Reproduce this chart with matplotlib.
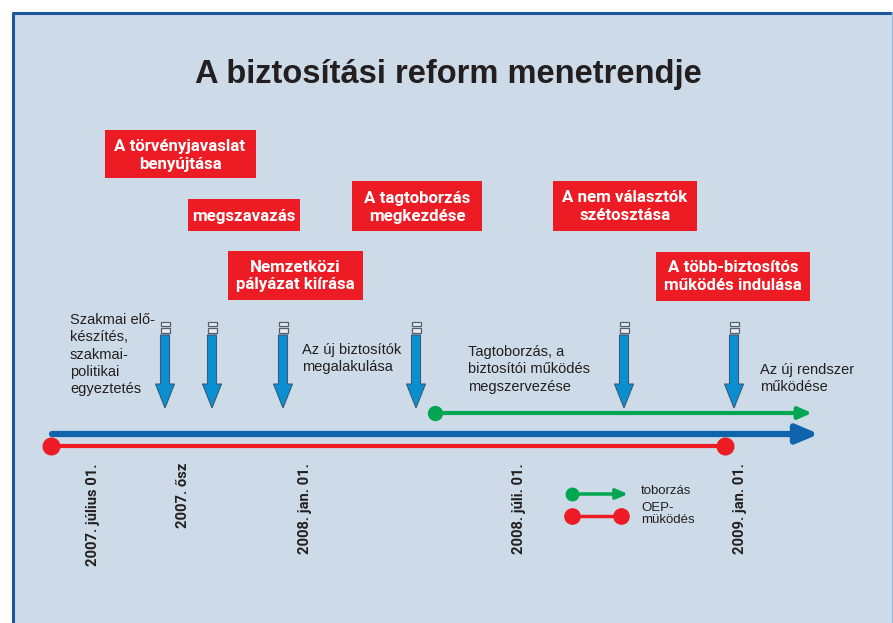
import matplotlib
matplotlib.use("Agg")
import matplotlib.pyplot as plt
import matplotlib.patches as mpatches

# Texts / data
title = "A biztosítási reform menetrendje"

box_texts = ["A törvényjavaslat\nbenyújtása", "megszavazás", "Nemzetközi\npályázat kiírása",
             "A tagtoborzás\nmegkezdése", "A nem választók\nszétosztása",
             "A több-biztosítós\nműködés indulása"]
box_centers = [(180, 154), (244, 215), (295, 275), (417, 206), (625, 206), (733, 276)]
box_sizes = [(151, 48), (112, 32), (135, 49), (130, 50), (144, 50), (154, 49)]

side_texts = ["Szakmai elő-\nkészítés,\nszakmai-\npolitikai\negyeztetés",
              "Az új biztosítók\nmegalakulása",
              "Tagtoborzás, a\nbiztosítói működés\nmegszervezése",
              "Az új rendszer\nműködése"]
side_pos = [(70, 313), (302, 343), (468, 345), (760, 363)]

arrow_x = [165, 212, 283, 416, 624, 734]

date_labels = ["2007. július 01.", "2007. ősz", "2008. jan. 01.", "2008. júli. 01.", "2009. jan. 01."]
date_x = [93, 183, 305, 519, 740]

legend_labels = ["toborzás", "OEP-\nmüködés"]

RED = "#ed1c24"
GREEN = "#00a651"
BLUE_DARK = "#0f64ab"
BLUE_ARR = "#0a8fd2"
BG = "#cddbe8"
TXT = "#231f20"

W, H = 893, 623
fig = plt.figure(figsize=(W / 100, H / 100), dpi=100)
fig.patch.set_facecolor("white")
ax = fig.add_axes([0, 0, 1, 1])
ax.set_xlim(0, W)
ax.set_ylim(H, 0)
ax.axis("off")

# panel
ax.add_patch(mpatches.Rectangle((12, 12), 880, 620, facecolor=BG, edgecolor="none", zorder=0))
ax.plot([12, 892], [12.5, 12.5], color="#1d569c", lw=2.2, solid_capstyle="butt", zorder=1)
ax.plot([12.5, 12.5], [12, 623], color="#1d569c", lw=2.2, solid_capstyle="butt", zorder=1)
ax.plot([891.8, 891.8], [12, 623], color="#9bb8d6", lw=1, zorder=1)

ax.text(448, 75, title, ha="center", va="center", fontsize=23.5, fontweight="bold",
        family="Liberation Sans", color=TXT)

narrow = ["Roboto", "Liberation Sans"]

# red boxes
for txt, (cx, cy), (bw, bh) in zip(box_texts, box_centers, box_sizes):
    ax.add_patch(mpatches.Rectangle((cx - bw / 2, cy - bh / 2), bw, bh, facecolor=RED,
                                    edgecolor="none", zorder=2))
    ax.text(cx, cy + 1, txt, ha="center", va="center", fontsize=12.2, fontweight="bold",
            family=narrow, color="white", linespacing=1.25, zorder=3)

# side texts
for txt, (x, y) in zip(side_texts, side_pos):
    ax.text(x, y, txt, ha="left", va="top", fontsize=10.5, family="Liberation Sans",
            color=TXT, linespacing=1.3, zorder=3)

# down arrows with small markers
for x in arrow_x:
    ax.add_patch(mpatches.FancyArrow(x, 335, 0, 73, width=9, head_width=19, head_length=24,
                                     length_includes_head=True, facecolor=BLUE_ARR,
                                     edgecolor="#3c5a78", lw=0.8, zorder=3))
    for y0, h in [(321.5, 4), (327.5, 5)]:
        ax.add_patch(mpatches.Rectangle((x - 4.5, y0), 9, h, facecolor="#e6ecf2",
                                        edgecolor="#55606b", lw=0.9, zorder=3))

# green line (toborzás)
ax.annotate("", xy=(812, 413), xytext=(433, 413),
            arrowprops=dict(arrowstyle="-|>,head_length=0.8,head_width=0.35", color=GREEN,
                            lw=3, shrinkA=0, shrinkB=0), zorder=4)
ax.plot([435], [413], "o", color=GREEN, ms=10, zorder=5)

# blue main timeline
ax.annotate("", xy=(819, 434), xytext=(52, 434),
            arrowprops=dict(arrowstyle="-|>,head_length=1.3,head_width=0.55", color=BLUE_DARK,
                            lw=4.5, shrinkA=0, shrinkB=0), zorder=4)

# red line (OEP működés)
ax.plot([51, 725], [446, 446], color=RED, lw=3, zorder=4)
ax.plot([51, 725], [446, 446], "o", color=RED, ms=12, zorder=5)

# date labels
for lab, x in zip(date_labels, date_x):
    ax.text(x, 463, lab, rotation=90, ha="center", va="top", fontsize=10.6,
            fontweight="bold", family=narrow, color=TXT, zorder=3)

# legend
ax.annotate("", xy=(628, 494), xytext=(572, 494),
            arrowprops=dict(arrowstyle="-|>,head_length=0.7,head_width=0.3", color=GREEN,
                            lw=2.5, shrinkA=0, shrinkB=0), zorder=4)
ax.plot([572], [494], "o", color=GREEN, ms=9, zorder=5)
ax.plot([572, 621], [516, 516], color=RED, lw=2.5, zorder=4)
ax.plot([572, 621], [516, 516], "o", color=RED, ms=11, zorder=5)
ax.text(641, 491, legend_labels[0], ha="left", va="center", fontsize=9.5,
        family="Liberation Sans", color=TXT)
ax.text(641, 502, legend_labels[1], ha="left", va="top", fontsize=9.5,
        family="Liberation Sans", color=TXT, linespacing=1.0)

fig.savefig("out.png", dpi=100, facecolor=fig.get_facecolor())
